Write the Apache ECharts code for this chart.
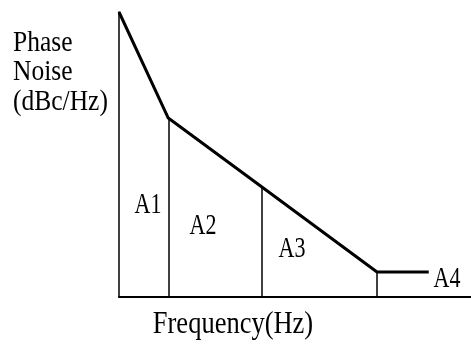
<!DOCTYPE html>
<html>
<head>
  <meta charset="utf-8">
  <title>Phase Noise</title>
  <script src="https://cdn.jsdelivr.net/npm/echarts@6/dist/echarts.min.js"></script>
  <style>
    html, body { margin: 0; padding: 0; background: #fff; }
    #chart { width: 471px; height: 347px; }
  </style>
</head>
<body>
  <div id="chart"></div>
  <script>
    // breakpoints of the phase-noise curve (arbitrary units)
    var freq = [0, 14, 40.6, 73.3, 88];
    var noise = [100, 62.8, 38.6, 8.8, 8.8];
    // indexes of the points that get a divider line down to the axis
    var dividers = [1, 2, 3];
    var areaNames = ['A1', 'A2', 'A3', 'A4'];

    var points = freq.map(function (f, i) { return [f, noise[i]]; });
    var serif = '"Liberation Serif", "Times New Roman", serif';

    // the source picture is a bit stretched vertically, so the text is too
    function areaLabel(name, x, y) {
      return {
        type: 'text', x: x, y: y, scaleY: 1.35,
        style: { text: name, font: '22px ' + serif, fill: '#000', align: 'center', verticalAlign: 'middle' }
      };
    }

    var myChart = echarts.init(document.getElementById('chart'));
    var option = {
      animation: false,
      grid: { left: 119, right: 0, top: 12, bottom: 50 },
      xAxis: {
        type: 'value', min: 0, max: 100,
        axisLine: { show: true, lineStyle: { color: '#000', width: 2 } },
        axisTick: { show: false }, axisLabel: { show: false }, splitLine: { show: false }
      },
      yAxis: {
        type: 'value', min: 0, max: 100,
        axisLine: { show: true, lineStyle: { color: '#000', width: 1.5 } },
        axisTick: { show: false }, axisLabel: { show: false }, splitLine: { show: false }
      },
      series: [{
        type: 'line',
        data: points,
        symbol: 'none',
        lineStyle: { color: '#000', width: 3 },
        markLine: {
          silent: true,
          symbol: 'none',
          label: { show: false },
          lineStyle: { color: '#000', width: 1.5, type: 'solid' },
          data: dividers.map(function (i) {
            return [{ coord: [freq[i], 0] }, { coord: [freq[i], noise[i]] }];
          })
        }
      }],
      graphic: [
        { type: 'text', x: 13, y: 28, scaleY: 1.18,
          style: { text: 'Phase\nNoise\n(dBc/Hz)', font: '25.5px ' + serif, lineHeight: 25, fill: '#000', verticalAlign: 'top' } },
        { type: 'text', x: 233, y: 325, scaleY: 1.16,
          style: { text: 'Frequency(Hz)', font: '26.5px ' + serif, fill: '#000', align: 'center', verticalAlign: 'middle' } },
        areaLabel(areaNames[0], 148, 205),
        areaLabel(areaNames[1], 203, 226),
        areaLabel(areaNames[2], 292, 249),
        areaLabel(areaNames[3], 447, 279)
      ]
    };
    myChart.setOption(option);
  </script>
</body>
</html>
